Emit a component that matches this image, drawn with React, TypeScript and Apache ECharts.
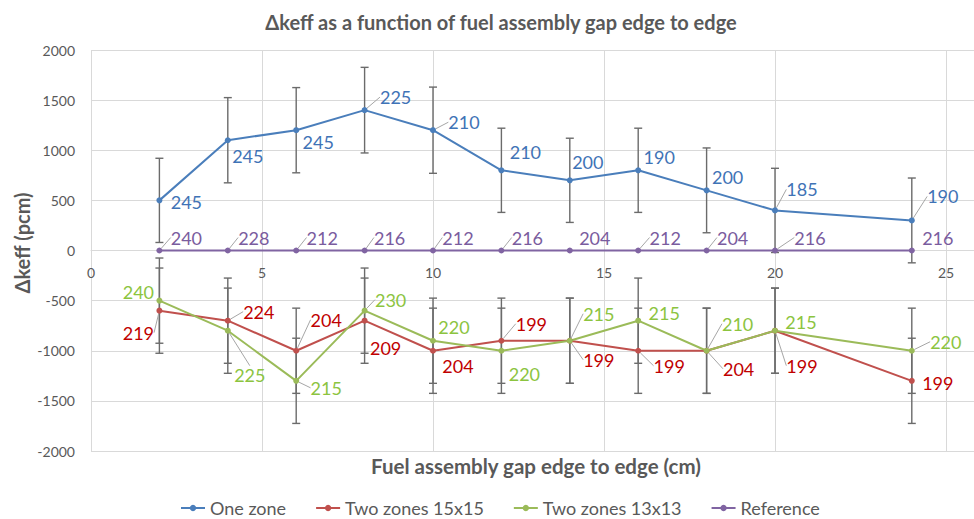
import React, { useEffect, useRef } from "react";
import * as echarts from "echarts";

// ---- data ----
const gapCm = [2, 4, 6, 8, 10, 12, 14, 16, 18, 20, 24];

const oneZone = [500, 1100, 1200, 1400, 1200, 800, 700, 800, 600, 400, 300];
const oneZoneSigma = [245, 245, 245, 225, 210, 210, 200, 190, 200, 185, 190];
const oneZoneErr = [420, 425, 425, 427, 430, 420, 420, 420, 423, 420, 423];

const twoZones15 = [-600, -700, -1000, -700, -1000, -900, -900, -1000, -1000, -800, -1300];
const twoZones15Sigma = [219, 224, 204, 209, 204, 199, 199, 199, 204, 199, 199];
const twoZones15Err = [425, 425, 425, 425, 425, 425, 425, 425, 425, 425, 425];

const twoZones13 = [-500, -800, -1300, -600, -900, -1000, -900, -700, -1000, -800, -1000];
const twoZones13Sigma = [240, 225, 215, 230, 220, 220, 215, 215, 210, 215, 220];
const twoZones13Err = [425, 425, 425, 425, 425, 425, 425, 425, 425, 425, 425];

const reference = [0, 0, 0, 0, 0, 0, 0, 0, 0, 0, 0];
const referenceSigma = [240, 228, 212, 216, 212, 216, 204, 212, 204, 216, 216];

const seriesNames = ["One zone", "Two zones 15x15", "Two zones 13x13", "Reference"];
const yTicks = { min: -2000, max: 2000, step: 500 };
const xTicks = { min: 0, max: 30, step: 5 };

// ---- label placement (styling: offsets of data labels from their points) ----
const offOne: [number, number, boolean][] = [
  [27, 2, false], [20, 16, false], [22, 12, false], [31, -13, true], [31, -8, true],
  [24, -18, false], [18, -18, false], [21, -13, false], [21, -13, false], [27, -21, true], [31, -24, true],
];
const offRef: [number, number, boolean][] = [
  [27, -13, true], [26, -13, true], [26, -13, true], [25, -13, true], [25, -13, true],
  [26, -13, true], [25, -13, false], [27, -13, true], [26, -13, true], [35, -13, true], [26, -13, false],
];
const off15: [number, number, boolean][] = [
  [-21, 22, true], [31, -9, true], [30, -31, true], [21, 27, false], [25, 15, false],
  [30, -17, true], [29, 19, true], [31, 15, true], [32, 18, true], [27, 35, true], [26, 2, false],
];
const off13: [number, number, boolean][] = [
  [-21, -9, false], [22, 44, true], [30, 7, true], [26, -11, true], [21, -14, false],
  [23, 23, false], [29, -27, true], [26, -8, false], [31, -27, true], [26, -9, false], [34, -9, true],
];

const FONT = "Lato, 'Open Sans', sans-serif";
const VIEW_W = 974;
const VIEW_H = 519;
const CHART_W = 1117; // plot continues past the right edge of the picture, as in the reference

function lineSeries(
  name: string,
  values: number[],
  sigma: number[],
  offs: [number, number, boolean][],
  lineColor: string,
  labelColor: string
) {
  return {
    name,
    type: "line",
    z: 3,
    symbol: "circle",
    symbolSize: 6,
    lineStyle: { color: lineColor, width: 2 },
    itemStyle: { color: lineColor },
    data: gapCm.map((x, i) => ({
      value: [x, values[i]],
      labelLine: { show: offs[i][2] },
    })),
    label: {
      show: true,
      position: "inside",
      color: labelColor,
      fontFamily: FONT,
      fontSize: 18,
      formatter: (p: any) => String(sigma[p.dataIndex]),
    },
    labelLine: {
      show: false,
      lineStyle: { color: "#a6a6a6", width: 1 },
      length2: 0,
    },
    labelLayout: (p: any) => ({ dx: offs[p.dataIndex][0], dy: offs[p.dataIndex][1] }),
  };
}

function errSeries(name: string, values: number[], err: number[]) {
  return {
    name,
    type: "custom",
    z: 2,
    silent: true,
    encode: { x: 0, y: [1, 2] },
    data: gapCm.map((x, i) => [x, values[i] - err[i], values[i] + err[i]]),
    renderItem: (_params: any, api: any) => {
      const x = api.value(0);
      const top = api.coord([x, api.value(2)]);
      const bot = api.coord([x, api.value(1)]);
      const st = { stroke: "#6b6b6b", lineWidth: 1.4 };
      return {
        type: "group",
        children: [
          { type: "line", shape: { x1: top[0], y1: top[1], x2: bot[0], y2: bot[1] }, style: st },
          { type: "line", shape: { x1: top[0] - 4, y1: top[1], x2: top[0] + 4, y2: top[1] }, style: st },
          { type: "line", shape: { x1: bot[0] - 4, y1: bot[1], x2: bot[0] + 4, y2: bot[1] }, style: st },
        ],
      };
    },
  };
}

export default function App() {
  const ref = useRef<HTMLDivElement>(null);
  useEffect(() => {
    document.body.style.margin = "0";
    const chart = echarts.init(ref.current!, null, { renderer: "svg" });
    chart.setOption({
      animation: false,
      backgroundColor: "#ffffff",
      title: {
        text: "Δkeff as a function of fuel assembly gap edge to edge",
        left: 496,
        textAlign: "center",
        top: 7,
        textStyle: { fontFamily: FONT, fontSize: 20, fontWeight: "bold", color: "#595959" },
      },
      legend: {
        data: seriesNames,
        left: 175,
        top: 494,
        itemWidth: 24,
        itemHeight: 8,
        itemGap: 29,
        textStyle: { fontFamily: FONT, fontSize: 18, color: "#595959" },
      },
      grid: {
        left: 91,
        right: 0,
        top: 50,
        bottom: 68,
        containLabel: false,
        outerBoundsMode: "none",
      },
      xAxis: {
        type: "value",
        min: xTicks.min,
        max: xTicks.max,
        interval: xTicks.step,
        offset: -200.5,
        axisLine: { onZero: false, lineStyle: { color: "#d9d9d9" } },
        axisTick: { show: false },
        axisLabel: {
          fontFamily: FONT,
          fontSize: 14,
          color: "#595959",
          margin: 15,
          showMaxLabel: false,
        },
        splitLine: { show: true, lineStyle: { color: "#d9d9d9", width: 1 } },
      },
      yAxis: {
        type: "value",
        min: yTicks.min,
        max: yTicks.max,
        interval: yTicks.step,
        axisLine: { show: false },
        axisTick: { show: false },
        axisLabel: {
          fontFamily: FONT,
          fontSize: 14,
          color: "#595959",
          margin: 16,
          formatter: (v: number) => String(v),
        },
        splitLine: { show: true, lineStyle: { color: "#d9d9d9", width: 1 } },
      },
      graphic: [
        {
          type: "text",
          x: 536,
          y: 466,
          style: {
            text: "Fuel assembly gap edge to edge (cm)",
            fontFamily: FONT,
            fontSize: 20.5,
            fontWeight: "bold",
            fill: "#595959",
            textAlign: "center",
            textVerticalAlign: "middle",
          },
        },
        {
          type: "text",
          x: 22,
          y: 243,
          rotation: Math.PI / 2,
          style: {
            text: "Δkeff (pcm)",
            fontFamily: FONT,
            fontSize: 20,
            fontWeight: "bold",
            fill: "#595959",
            textAlign: "center",
            textVerticalAlign: "middle",
          },
        },
      ],
      series: [
        errSeries("err1", oneZone, oneZoneErr),
        errSeries("err2", twoZones15, twoZones15Err),
        errSeries("err3", twoZones13, twoZones13Err),
        lineSeries(seriesNames[0], oneZone, oneZoneSigma, offOne, "#4a7ebb", "#3f73b6"),
        lineSeries(seriesNames[1], twoZones15, twoZones15Sigma, off15, "#c0504d", "#c00000"),
        lineSeries(seriesNames[2], twoZones13, twoZones13Sigma, off13, "#9bbb59", "#8cc43f"),
        lineSeries(seriesNames[3], reference, referenceSigma, offRef, "#8064a2", "#7a5c9e"),
      ],
    });
    return () => chart.dispose();
  }, []);
  return (
    <div style={{ width: VIEW_W, height: VIEW_H, overflow: "hidden", position: "relative" }}>
      <div ref={ref} style={{ width: CHART_W, height: VIEW_H }} />
    </div>
  );
}
